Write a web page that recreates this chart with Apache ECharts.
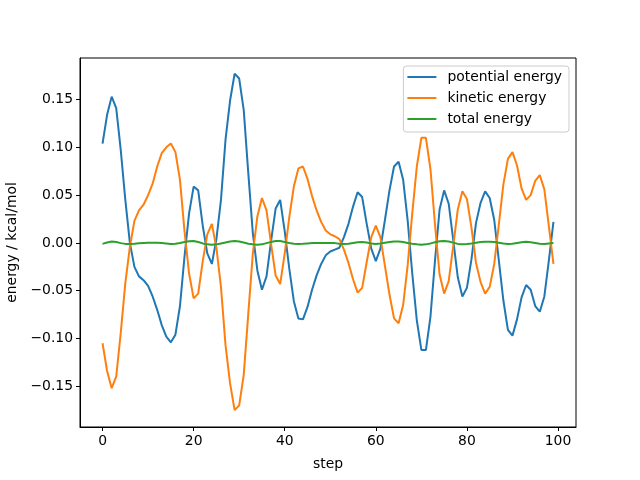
<!DOCTYPE html>
<html>
<head>
<meta charset="utf-8">
<script src="https://cdn.jsdelivr.net/npm/echarts@6/dist/echarts.min.js"></script>
<style>html,body{margin:0;padding:0;background:#fff}#c{width:640px;height:480px}</style>
</head>
<body>
<div id="c"></div>
<script>
var seriesNames = ['potential energy', 'kinetic energy', 'total energy'];
var xTicks = [0, 20, 40, 60, 80, 100];
var yTicks = [-0.15, -0.10, -0.05, 0.00, 0.05, 0.10, 0.15];

var potential = [
  0.104, 0.134, 0.153, 0.141, 0.097, 0.045, 0.000, -0.025, -0.035, -0.039,
  -0.045, -0.056, -0.070, -0.086, -0.098, -0.104, -0.096, -0.066, -0.014, 0.031,
  0.059, 0.055, 0.018, -0.011, -0.022, 0.004, 0.045, 0.108, 0.149, 0.177,
  0.172, 0.139, 0.073, 0.010, -0.029, -0.049, -0.035, 0.002, 0.036, 0.045,
  0.012, -0.027, -0.061, -0.079, -0.080, -0.067, -0.049, -0.034, -0.022, -0.013,
  -0.009, -0.007, -0.005, 0.006, 0.020, 0.038, 0.053, 0.048, 0.020, -0.006,
  -0.019, -0.006, 0.024, 0.055, 0.080, 0.085, 0.066, 0.023, -0.032, -0.081,
  -0.112, -0.112, -0.077, -0.018, 0.035, 0.055, 0.041, 0.003, -0.036, -0.056,
  -0.047, -0.017, 0.021, 0.042, 0.054, 0.047, 0.024, -0.018, -0.060, -0.091,
  -0.097, -0.080, -0.057, -0.044, -0.049, -0.066, -0.072, -0.056, -0.018, 0.022
];
var kinetic = [
  -0.105, -0.134, -0.152, -0.140, -0.094, -0.042, -0.004, 0.023, 0.034, 0.040,
  0.050, 0.062, 0.080, 0.094, 0.100, 0.104, 0.095, 0.066, 0.012, -0.032,
  -0.058, -0.053, -0.019, 0.009, 0.020, -0.005, -0.046, -0.107, -0.147, -0.175,
  -0.170, -0.138, -0.074, -0.011, 0.028, 0.047, 0.034, -0.001, -0.034, -0.043,
  -0.011, 0.027, 0.059, 0.078, 0.080, 0.067, 0.049, 0.034, 0.022, 0.013,
  0.009, 0.007, 0.004, -0.007, -0.021, -0.038, -0.052, -0.047, -0.020, 0.006,
  0.018, 0.006, -0.024, -0.054, -0.079, -0.084, -0.065, -0.023, 0.031, 0.080,
  0.110, 0.110, 0.077, 0.019, -0.033, -0.053, -0.040, -0.003, 0.035, 0.054,
  0.046, 0.016, -0.021, -0.041, -0.053, -0.046, -0.022, 0.019, 0.061, 0.088,
  0.095, 0.081, 0.057, 0.045, 0.050, 0.065, 0.071, 0.056, 0.017, -0.022
];
var total = [
  -0.0010, 0.0005, 0.0015, 0.0010, -0.0002, -0.0010, -0.0010, -0.0008, -0.0003, 0.0000,
  0.0002, 0.0003, 0.0002, 0.0000, -0.0005, -0.0010, -0.0008, 0.0000, 0.0010, 0.0017,
  0.0020, 0.0010, -0.0005, -0.0015, -0.0020, -0.0015, -0.0005, 0.0005, 0.0015, 0.0020,
  0.0015, 0.0005, -0.0008, -0.0015, -0.0020, -0.0015, -0.0002, 0.0010, 0.0020, 0.0020,
  0.0010, 0.0000, -0.0008, -0.0010, -0.0008, -0.0005, -0.0002, 0.0000, 0.0000, 0.0000,
  0.0000, -0.0002, -0.0008, -0.0010, -0.0008, 0.0000, 0.0008, 0.0010, 0.0005, -0.0005,
  -0.0010, -0.0005, 0.0003, 0.0010, 0.0015, 0.0015, 0.0010, 0.0000, -0.0008, -0.0015,
  -0.0020, -0.0015, -0.0005, 0.0008, 0.0018, 0.0020, 0.0015, 0.0003, -0.0010, -0.0015,
  -0.0012, -0.0005, 0.0003, 0.0010, 0.0012, 0.0012, 0.0010, 0.0003, -0.0005, -0.0010,
  -0.0008, 0.0000, 0.0008, 0.0012, 0.0008, 0.0000, -0.0008, -0.0010, -0.0005, 0.0000
];
var steps = potential.map(function (_, i) { return i; });

function pairs(vals) { return vals.map(function (v, i) { return [steps[i], v]; }); }
var colors = ['#1f77b4', '#ff7f0e', '#2ca02c'];
var font = 'DejaVu Sans';

var chart = echarts.init(document.getElementById('c'), null, {renderer: 'canvas'});
var lineSeries = [potential, kinetic, total].map(function (vals, k) {
  return {
    name: seriesNames[k], type: 'line', data: pairs(vals), showSymbol: false,
    lineStyle: {width: 2, color: colors[k]}, itemStyle: {color: colors[k]}, z: 2 + k
  };
});
chart.setOption({
  animation: false,
  backgroundColor: '#fff',
  grid: {left: 80, right: 64, top: 58, bottom: 53, show: true, borderColor: '#000', borderWidth: 1,
    backgroundColor: 'transparent', containLabel: false, outerBoundsMode: 'none'},
  legend: {
    data: seriesNames, orient: 'vertical', right: 71, top: 66,
    itemWidth: 29, itemHeight: 2, itemGap: 7,
    padding: [4, 7, 6, 4],
    backgroundColor: 'rgba(255,255,255,0.8)', borderColor: '#cccccc', borderWidth: 1, borderRadius: 3,
    textStyle: {fontFamily: font, fontSize: 13.9, color: '#000', padding: [0, 0, 0, 6]},
    icon: 'rect'
  },
  xAxis: {
    type: 'value', min: -4.95, max: 103.95,
    name: 'step', nameLocation: 'middle', nameGap: 30,
    nameTextStyle: {fontFamily: font, fontSize: 13.9, color: '#000'},
    axisLine: {show: true, onZero: false, lineStyle: {color: '#000', width: 1}},
    axisTick: {show: true, inside: false, length: 4, lineStyle: {color: '#000'}, customValues: xTicks},
    axisLabel: {fontFamily: font, fontSize: 13.9, color: '#000', margin: 7, customValues: xTicks,
      formatter: function (v) { return String(v); }},
    splitLine: {show: false}
  },
  yAxis: {
    type: 'value', min: -0.1926, max: 0.1935,
    name: 'energy / kcal/mol', nameLocation: 'middle', nameGap: 58, nameRotate: 90,
    nameTextStyle: {fontFamily: font, fontSize: 13.9, color: '#000'},
    axisLine: {show: true, onZero: false, lineStyle: {color: '#000', width: 1}},
    axisTick: {show: true, inside: false, length: 4, lineStyle: {color: '#000'}, customValues: yTicks},
    axisLabel: {fontFamily: font, fontSize: 13.9, color: '#000', margin: 7, customValues: yTicks,
      formatter: function (v) { return v.toFixed(2).replace('-', '\u2212'); }},
    splitLine: {show: false}
  },
  series: lineSeries
});
</script>
</body>
</html>
